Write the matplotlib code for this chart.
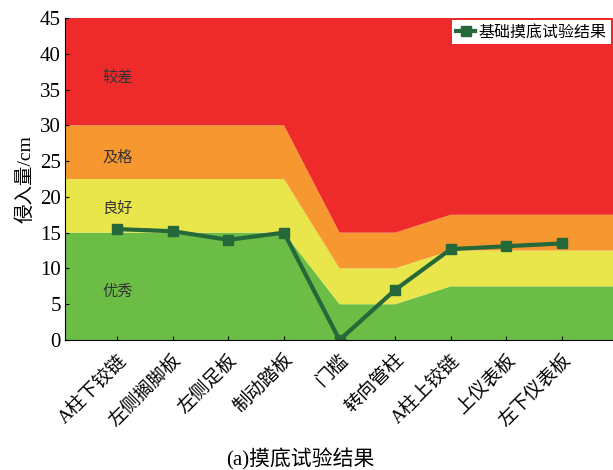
import matplotlib
matplotlib.use("Agg")
import matplotlib.pyplot as plt
import numpy as np

plt.rcParams['font.family'] = ['Liberation Serif', 'Noto Sans CJK SC']

# 部位与侵入量
parts = ['A柱下铰链', '左侧搁脚板', '左侧足板', '制动踏板', '门槛',
         '转向管柱', 'A柱上铰链', '上仪表板', '左下仪表板']
intrusion = [15.5, 15.2, 14.0, 15.0, 0.0, 7.0, 12.7, 13.1, 13.5]

# 评价区间上限
good_top = [15, 15, 15, 15, 5, 5, 7.5, 7.5, 7.5]        # 优秀
fine_top = [22.5, 22.5, 22.5, 22.5, 10, 10, 12.5, 12.5, 12.5]  # 良好
pass_top = [30, 30, 30, 30, 15, 15, 17.5, 17.5, 17.5]   # 及格
ymax = 45

band_names = ['优秀', '良好', '及格', '较差']
band_label_y = [6.7, 18.4, 25.5, 36.7]
band_colors = ['#6cbd45', '#e8e64a', '#f6982f', '#ee2a2a']

fig = plt.figure(figsize=(6.13, 4.70), dpi=100)
ax = fig.add_axes([0.106, 0.2766, 0.894, 0.6851])

x = np.arange(len(parts))
# 边界延伸到坐标轴两端
xe = np.r_[-2, x, len(parts) + 1]
def ext(v):
    return np.r_[v[0], v, v[-1]]

tops = [ext(good_top), ext(fine_top), ext(pass_top), np.full(len(xe), ymax)]
low = np.zeros(len(xe))
for top, c in zip(tops, band_colors):
    ax.fill_between(xe, low, top, color=c, lw=0)
    low = top

for name, yy in zip(band_names, band_label_y):
    ax.text(0, yy, name, ha='center', va='center', fontsize=11, color='#333333')

ax.plot(x, intrusion, color='#25683a', lw=3, marker='s', markersize=6.5,
        label='基础摸底试验结果')

ax.set_xlim(-0.94, 8.92)
ax.set_ylim(0, 45)
ax.set_yticks(np.arange(0, 46, 5))
ax.set_xticks(x)
ax.set_xticklabels(parts, rotation=45, ha='right', rotation_mode='anchor', fontsize=13.5)
ax.tick_params(axis='y', direction='in', labelsize=15, length=3, pad=3)
ax.tick_params(axis='x', direction='in', length=3, pad=8)
ax.spines['top'].set_visible(False)
ax.spines['right'].set_visible(False)
ax.set_ylabel('侵入量/cm', fontsize=14, labelpad=4)

leg = ax.legend(loc='upper right', fontsize=11.5, frameon=True, fancybox=False,
                handlelength=1.2, handletextpad=0.2, borderpad=0.25,
                borderaxespad=0.15)
leg.get_frame().set_edgecolor('none')
leg.get_frame().set_facecolor('white')
leg.get_frame().set_alpha(1)

fig.text(0.49, 0.0, '(a)摸底试验结果', ha='center', va='bottom', fontsize=15)

fig.savefig('out.png', dpi=100)
